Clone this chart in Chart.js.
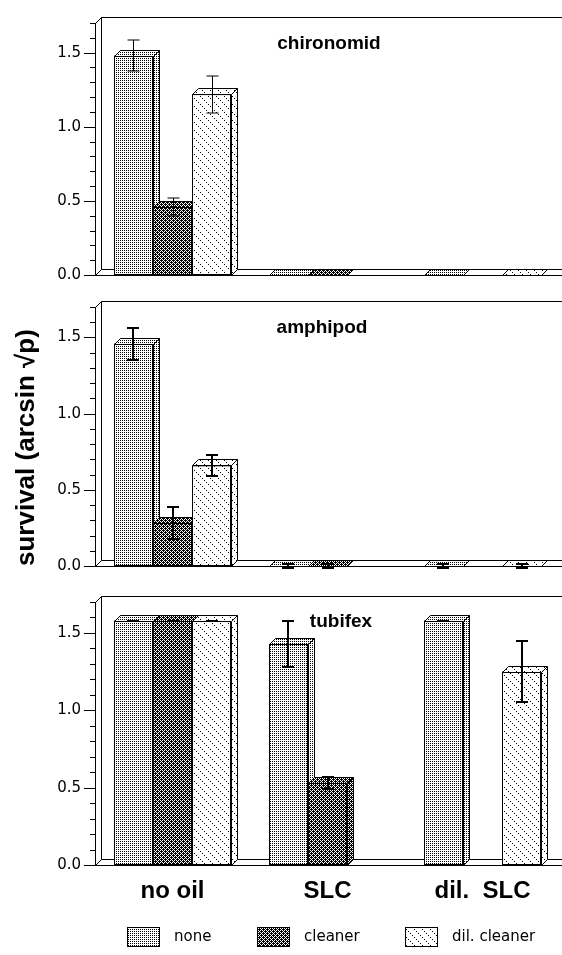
<!DOCTYPE html>
<html lang="en">
<head>
<meta charset="utf-8">
<title>survival</title>
<script src="https://cdn.jsdelivr.net/npm/chart.js@4.4.1/dist/chart.umd.min.js"></script>
<style>
	html, body { margin: 0; padding: 0; background: #fff; overflow: hidden; }
	#page { position: relative; width: 562px; height: 955px; }
	canvas { position: absolute; left: 0; }
</style>
</head>
<body>
<div id="page">
	<canvas id="chironomid" width="562" height="299" style="top:0px"></canvas>
	<canvas id="amphipod" width="562" height="306" style="top:284px"></canvas>
	<canvas id="tubifex" width="562" height="376" style="top:579px"></canvas>
</div>
<script>
// categories, series et graduations
const categories = ["no oil", "SLC", "dil.  SLC"];
const series = ["none", "cleaner", "dil. cleaner"];
const yTicks = [0.0, 0.5, 1.0, 1.5];

// chironomid
const chironomidNone = [1.48, 0, 0];
const chironomidCleaner = [0.46, 0, null];
const chironomidDil = [1.22, null, 0];
const chironomidNoneErr = [0.105, null, null];
const chironomidCleanerErr = [0.06, null, null];
const chironomidDilErr = [0.125, null, null];

// amphipod
const amphipodNone = [1.46, 0, 0];
const amphipodCleaner = [0.285, 0, null];
const amphipodDil = [0.66, null, 0];
const amphipodNoneErr = [0.105, 0.01, 0.01];
const amphipodCleanerErr = [0.105, 0.01, null];
const amphipodDilErr = [0.07, null, 0.01];

// tubifex
const tubifexNone = [1.58, 1.43, 1.58];
const tubifexCleaner = [1.58, 0.53, null];
const tubifexDil = [1.58, null, 1.25];
const tubifexNoneErr = [0, 0.15, 0];
const tubifexCleanerErr = [0, 0.04, null];
const tubifexDilErr = [0, null, 0.195];

Chart.defaults.font.family = "DejaVu Sans";
Chart.defaults.color = "#000";

// motifs de remplissage (points clairs, points sombres, hachures)
function motif(type){
	const c = document.createElement("canvas");
	const n = type === 0 ? 2 : (type === 1 ? 4 : 8);
	c.width = n; c.height = n;
	const g = c.getContext("2d");
	g.fillStyle = "#fff";
	g.fillRect(0, 0, n, n);
	g.fillStyle = "#000";
	if (type === 0)
		g.fillRect(0, 0, 1, 1);
	else if (type === 1){
		for (let y = 0; y < n; y++)
			for (let x = 0; x < n; x++)
				if ((x + y) % 2 === 0) g.fillRect(x, y, 1, 1);
		g.fillRect(1, 0, 1, 1);
		g.fillRect(3, 2, 1, 1);
	}
	else
		for (let i = 0; i < n; i += 2) g.fillRect(i, i, 1, 1);
	return g.createPattern(c, "repeat");
}
const motifs = [motif(0), motif(1), motif(2)];

const DX = 6, DY = 6;
const estMajeur = v => yTicks.some(t => Math.abs(t - v) < 1e-6);

// boite 3D, faces des barres, barres d'erreur, titres
const relief = {
	id: "relief",
	beforeDatasetsDraw(chart){
		const {ctx, chartArea: a} = chart;
		const W = chart.width;
		const l = Math.round(a.left) + 0.5, t = Math.round(a.top) + 0.5, b = Math.round(a.bottom) + 0.5;
		ctx.save();
		ctx.strokeStyle = "#000";
		ctx.lineWidth = 1;
		ctx.beginPath();
		ctx.moveTo(W, t - DY);
		ctx.lineTo(l + DX, t - DY);
		ctx.lineTo(l + DX, b - DY);
		ctx.lineTo(W, b - DY);
		ctx.moveTo(l, t);
		ctx.lineTo(l + DX, t - DY);
		ctx.moveTo(l, b);
		ctx.lineTo(l + DX, b - DY);
		ctx.moveTo(l, b);
		ctx.lineTo(W, b);
		ctx.stroke();
		ctx.restore();
	},
	afterDatasetsDraw(chart, args, opts){
		const ctx = chart.ctx;
		const ys = chart.scales.y;
		chart.data.datasets.forEach((ds, i) => {
			const meta = chart.getDatasetMeta(i);
			meta.data.forEach((bar, j) => {
				if (ds.data[j] === null) return;
				bar.draw(ctx, chart.chartArea);
				const p = bar.getProps(["x", "y", "base", "width"], true);
				const l = Math.round(p.x - p.width / 2) + 0.5;
				const r = Math.round(p.x + p.width / 2) + 0.5;
				const y = Math.round(p.y) + 0.5, base = Math.round(p.base) + 0.5;
				ctx.save();
				ctx.fillStyle = ds.backgroundColor;
				ctx.strokeStyle = "#000";
				ctx.lineWidth = 1;
				ctx.beginPath();
				ctx.moveTo(l, y);
				ctx.lineTo(l + DX, y - DY);
				ctx.lineTo(r + DX, y - DY);
				ctx.lineTo(r, y);
				ctx.closePath();
				ctx.fill(); ctx.stroke();
				ctx.beginPath();
				ctx.moveTo(r, y);
				ctx.lineTo(r + DX, y - DY);
				ctx.lineTo(r + DX, base - DY);
				ctx.lineTo(r, base);
				ctx.closePath();
				ctx.fill(); ctx.stroke();
				ctx.restore();
			});
		});
		// barres d'erreur
		ctx.save();
		ctx.strokeStyle = "#000";
		ctx.lineWidth = opts.errWidth;
		chart.data.datasets.forEach((ds, i) => {
			const meta = chart.getDatasetMeta(i);
			meta.data.forEach((bar, j) => {
				const v = ds.data[j], e = ds.errors[j];
				if (v === null || e === null) return;
				const cx = Math.round(bar.x) + (opts.errWidth % 2 ? 0.5 : 0);
				const hi = Math.round(ys.getPixelForValue(v + e));
				const lo = Math.round(ys.getPixelForValue(v - e));
				ctx.beginPath();
				ctx.moveTo(cx, hi); ctx.lineTo(cx, lo);
				ctx.moveTo(cx - 6, hi); ctx.lineTo(cx + 6, hi);
				ctx.moveTo(cx - 6, lo); ctx.lineTo(cx + 6, lo);
				ctx.stroke();
			});
		});
		ctx.restore();
	},
	afterDraw(chart, args, opts){
		const {ctx, chartArea: a} = chart;
		const ys = chart.scales.y;
		ctx.save();
		// graduations de l'axe y
		ctx.strokeStyle = "#000";
		ctx.lineWidth = 1;
		ctx.beginPath();
		ys.ticks.forEach(t => {
			const p = Math.round(ys.getPixelForValue(t.value)) + 0.5;
			ctx.moveTo(a.left - (estMajeur(t.value) ? 11 : 5), p);
			ctx.lineTo(a.left, p);
		});
		ctx.stroke();
		// titre du panneau
		ctx.fillStyle = "#000";
		ctx.font = "bold 19px 'Liberation Sans'";
		ctx.textAlign = "center";
		ctx.textBaseline = "alphabetic";
		ctx.fillText(opts.titre, opts.titreX, a.top + opts.titreY);
		// legende
		if (opts.legende){
			const xs = [127, 257, 405];
			const sy = Math.round(a.bottom) + 62;
			ctx.font = "15px 'DejaVu Sans'";
			ctx.textAlign = "left";
			ctx.textBaseline = "middle";
			series.forEach((nom, i) => {
				ctx.fillStyle = motifs[i];
				ctx.fillRect(xs[i], sy, 33, 20);
				ctx.strokeRect(xs[i] + 0.5, sy + 0.5, 32, 19);
				ctx.fillStyle = "#000";
				ctx.fillText(nom, xs[i] + 47, sy + 10);
			});
		}
		ctx.restore();
	}
};

function creerGraphique(id, valeurs, erreurs, reglages){
	const datasets = series.map((nom, i) => ({
		label: nom,
		data: valeurs[i],
		errors: erreurs[i],
		backgroundColor: motifs[i],
		borderColor: "#000",
		borderWidth: 1,
		borderSkipped: false,
		categoryPercentage: 0.755,
		barPercentage: 1
	}));
	return new Chart(document.getElementById(id), {
		type: "bar",
		data: {labels: categories, datasets: datasets},
		options: {
			responsive: false,
			animation: false,
			events: [],
			layout: {padding: {top: 20, right: 2, left: 0, bottom: 0}},
			plugins: {
				legend: {display: false},
				tooltip: {enabled: false},
				relief: reglages.relief
			},
			scales: {
				x: {
					grid: {display: false, drawTicks: false},
					border: {display: false},
					ticks: {
						display: reglages.etiquettes,
						padding: 12,
						color: "#000",
						font: {family: "Liberation Sans", size: 24, weight: "bold"}
					},
					afterFit: s => { s.height = reglages.hauteurX; }
				},
				y: {
					min: 0,
					max: 1.7,
					grid: {display: false, drawTicks: false},
					border: {display: true, color: "#000", width: 1},
					ticks: {
						stepSize: 0.1,
						autoSkip: false,
						padding: 14,
						color: "#000",
						font: {family: "DejaVu Sans", size: 15},
						callback: v => estMajeur(v) ? v.toFixed(1) : ""
					},
					title: {
						display: reglages.titreY,
						text: "survival (arcsin \u221Ap)",
						align: "start",
						color: "#000",
						padding: {top: 11, bottom: 0},
						font: {family: "Liberation Sans", size: 26, weight: "bold"}
					},
					afterFit: s => { s.width = 95; }
				}
			}
		},
		plugins: [relief]
	});
}

creerGraphique("chironomid",
	[chironomidNone, chironomidCleaner, chironomidDil],
	[chironomidNoneErr, chironomidCleanerErr, chironomidDilErr],
	{etiquettes: false, hauteurX: 24, titreY: false,
		relief: {titre: "chironomid", titreX: 329, titreY: 26, errWidth: 1, legende: false}});

creerGraphique("amphipod",
	[amphipodNone, amphipodCleaner, amphipodDil],
	[amphipodNoneErr, amphipodCleanerErr, amphipodDilErr],
	{etiquettes: false, hauteurX: 24, titreY: true,
		relief: {titre: "amphipod", titreX: 322, titreY: 26, errWidth: 2, legende: false}});

creerGraphique("tubifex",
	[tubifexNone, tubifexCleaner, tubifexDil],
	[tubifexNoneErr, tubifexCleanerErr, tubifexDilErr],
	{etiquettes: true, hauteurX: 90, titreY: false,
		relief: {titre: "tubifex", titreX: 341, titreY: 25, errWidth: 2, legende: true}});
</script>
</body>
</html>
